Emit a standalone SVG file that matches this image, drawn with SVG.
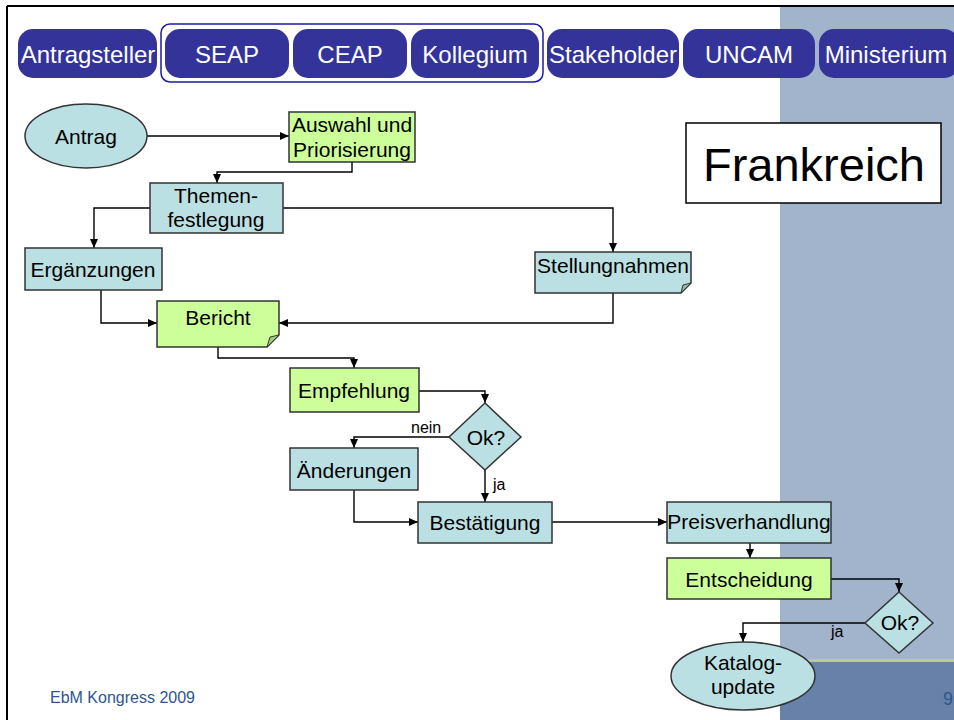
<svg xmlns="http://www.w3.org/2000/svg" width="954" height="720" viewBox="0 0 954 720">
<style>
.pill{fill:#333399;stroke:none}
.pt{font-family:"Liberation Sans",Arial,sans-serif;font-size:24px;fill:#ffffff;text-anchor:middle}
.teal{fill:#bbe0e3;stroke:#333333;stroke-width:1.5}
.green{fill:#ccff99;stroke:#333333;stroke-width:1.5}
.t{font-family:"Liberation Sans",Arial,sans-serif;font-size:21px;fill:#000000;text-anchor:middle}
.lbl{font-family:"Liberation Sans",Arial,sans-serif;font-size:16px;fill:#000000}
.c{fill:none;stroke:#000000;stroke-width:1.4}
.foot{font-family:"Liberation Sans",Arial,sans-serif;font-size:16px;fill:#2e5591}
</style>
<defs>
<marker id="ah" markerWidth="10" markerHeight="10" refX="9" refY="5" orient="auto" markerUnits="userSpaceOnUse">
<path d="M0,1 L9,5 L0,9 Z" fill="#000"/>
</marker>
</defs>
<rect x="0" y="0" width="954" height="720" fill="#ffffff"/>
<rect x="780" y="6" width="174" height="714" fill="#a2b4cc"/>
<rect x="780" y="662" width="174" height="58" fill="#6781a8"/>
<rect x="780" y="659" width="174" height="3" fill="#b9cf8f"/>
<line x1="7" y1="6" x2="954" y2="6" stroke="#000" stroke-width="2"/>
<line x1="7" y1="6" x2="7" y2="720" stroke="#000" stroke-width="2"/>

<g id="header">
<rect x="161" y="24" width="382" height="58" rx="9" fill="none" stroke="#1a1aa0" stroke-width="1.5"/>
<g id="h-antragsteller"><rect class="pill" x="18" y="29" width="139" height="49" rx="15"/><text class="pt" x="88" y="63">Antragsteller</text></g>
<g id="h-seap"><rect class="pill" x="165" y="29" width="124" height="49" rx="15"/><text class="pt" x="227" y="63">SEAP</text></g>
<g id="h-ceap"><rect class="pill" x="293" y="29" width="114" height="49" rx="15"/><text class="pt" x="350" y="63">CEAP</text></g>
<g id="h-kollegium"><rect class="pill" x="411" y="29" width="128" height="49" rx="15"/><text class="pt" x="475" y="63">Kollegium</text></g>
<g id="h-stakeholder"><rect class="pill" x="547" y="29" width="132" height="49" rx="15"/><text class="pt" x="613" y="63">Stakeholder</text></g>
<g id="h-uncam"><rect class="pill" x="683" y="29" width="132" height="49" rx="15"/><text class="pt" x="749" y="63">UNCAM</text></g>
<g id="h-ministerium"><rect class="pill" x="819" y="29" width="140" height="49" rx="15"/><text class="pt" x="886" y="63">Ministerium</text></g>
</g>

<g id="title"><rect x="686" y="123" width="255" height="80" fill="#ffffff" stroke="#000" stroke-width="1.5"/><text x="814" y="181" font-family="Liberation Sans,Arial,sans-serif" font-size="47" text-anchor="middle" fill="#000">Frankreich</text></g>

<g id="connectors">
<path class="c" d="M147,136 H289" marker-end="url(#ah)"/>
<path class="c" d="M352,162 V172 H217 V183" marker-end="url(#ah)"/>
<path class="c" d="M150,208 H94 V248" marker-end="url(#ah)"/>
<path class="c" d="M283,208 H613 V252" marker-end="url(#ah)"/>
<path class="c" d="M101,290 V323 H157" marker-end="url(#ah)"/>
<path class="c" d="M613,293 V323 H279" marker-end="url(#ah)"/>
<path class="c" d="M218,347 V358 H354 V368" marker-end="url(#ah)"/>
<path class="c" d="M419,391 H485 V403" marker-end="url(#ah)"/>
<path class="c" d="M449,437 H354 V448" marker-end="url(#ah)"/>
<path class="c" d="M485,470 V502" marker-end="url(#ah)"/>
<path class="c" d="M354,490 V522 H418" marker-end="url(#ah)"/>
<path class="c" d="M552,522 H667" marker-end="url(#ah)"/>
<path class="c" d="M750,543 V558" marker-end="url(#ah)"/>
<path class="c" d="M831,579 H899 V592" marker-end="url(#ah)"/>
<path class="c" d="M865,623 H743 V642" marker-end="url(#ah)"/>
<text class="lbl" x="411" y="433">nein</text>
<text class="lbl" x="493" y="490">ja</text>
<text class="lbl" x="831" y="637">ja</text>
</g>

<g id="antrag"><ellipse class="teal" cx="86" cy="136" rx="61" ry="32"/><text class="t" x="86" y="144">Antrag</text></g>
<g id="auswahl"><rect class="green" x="289" y="112" width="126" height="50"/><text class="t" x="352" y="132">Auswahl und</text><text class="t" x="352" y="157">Priorisierung</text></g>
<g id="themen"><rect class="teal" x="150" y="183" width="133" height="50"/><text class="t" x="216" y="203">Themen-</text><text class="t" x="216" y="227">festlegung</text></g>
<g id="ergaenzungen"><rect class="teal" x="25" y="248" width="137" height="42"/><text class="t" x="93" y="277">Ergänzungen</text></g>
<g id="stellungnahmen"><path class="teal" d="M535,252 H691 V283 L681,293 H535 Z"/><path d="M691,283 L681,293 L683,285 Z" fill="#93b5b8" stroke="#333" stroke-width="1"/><text class="t" x="613" y="273">Stellungnahmen</text></g>
<g id="bericht"><path class="green" d="M157,301 H279 V335 L267,347 H157 Z"/><path d="M279,335 L267,347 L270,337 Z" fill="#a3cc7a" stroke="#333" stroke-width="1"/><text class="t" x="218" y="325">Bericht</text></g>
<g id="empfehlung"><rect class="green" x="290" y="368" width="129" height="44"/><text class="t" x="354" y="398">Empfehlung</text></g>
<g id="ok1"><path class="teal" d="M485,403 L521,437 L485,470 L449,437 Z"/><text class="t" x="486" y="445">Ok?</text></g>
<g id="aenderungen"><rect class="teal" x="290" y="448" width="128" height="42"/><text class="t" x="354" y="478">Änderungen</text></g>
<g id="bestaetigung"><rect class="teal" x="418" y="502" width="134" height="41"/><text class="t" x="485" y="530">Bestätigung</text></g>
<g id="preis"><rect class="teal" x="667" y="502" width="164" height="41"/><text class="t" x="749" y="529">Preisverhandlung</text></g>
<g id="entscheidung"><rect class="green" x="667" y="558" width="164" height="41"/><text class="t" x="749" y="587">Entscheidung</text></g>
<g id="ok2"><path class="teal" d="M899,592 L933,623 L899,653 L865,623 Z"/><text class="t" x="900" y="630">Ok?</text></g>
<g id="katalog"><ellipse class="teal" cx="743" cy="676" rx="72" ry="34"/><text class="t" x="743" y="670">Katalog-</text><text class="t" x="743" y="694">update</text></g>

<text class="foot" x="50" y="703">EbM Kongress 2009</text>
<text x="943" y="705" font-family="Liberation Sans,Arial,sans-serif" font-size="18" fill="#2e5591">9</text>
</svg>
